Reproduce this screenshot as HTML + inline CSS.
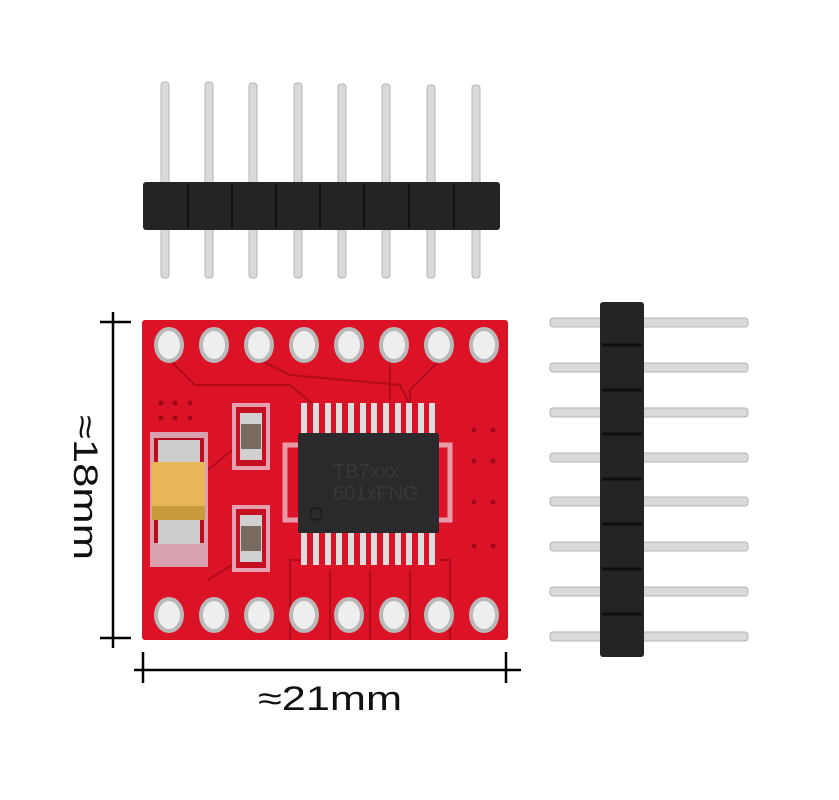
<!DOCTYPE html>
<html><head><meta charset="utf-8"><style>
html,body{margin:0;padding:0;background:#fff;}
svg{display:block;}
</style></head><body>
<svg width="839" height="800" viewBox="0 0 839 800" xmlns="http://www.w3.org/2000/svg">
<rect width="839" height="800" fill="#fff"/>
<!-- top header pins -->
<g fill="#d9d9d9" stroke="#b5b5b5" stroke-width="1">
<rect x="161" y="82" width="8" height="196" rx="3"/>
<rect x="205" y="82" width="8" height="196" rx="3"/>
<rect x="249" y="83" width="8" height="195" rx="3"/>
<rect x="294" y="83" width="8" height="195" rx="3"/>
<rect x="338" y="84" width="8" height="194" rx="3"/>
<rect x="382" y="84" width="8" height="194" rx="3"/>
<rect x="427" y="85" width="8" height="193" rx="3"/>
<rect x="472" y="85" width="8" height="193" rx="3"/>
</g>
<g fill="#242424">
<rect x="143" y="182" width="357" height="48" rx="3"/>
</g>
<g stroke="#111" stroke-width="2">
<line x1="188" y1="184" x2="188" y2="228"/><line x1="232" y1="184" x2="232" y2="228"/><line x1="276" y1="184" x2="276" y2="228"/><line x1="320" y1="184" x2="320" y2="228"/><line x1="364" y1="184" x2="364" y2="228"/><line x1="409" y1="184" x2="409" y2="228"/><line x1="454" y1="184" x2="454" y2="228"/>
</g>
<!-- right header -->
<g fill="#d9d9d9" stroke="#b5b5b5" stroke-width="1">
<rect x="550" y="318" width="198" height="9" rx="3"/>
<rect x="550" y="363" width="198" height="9" rx="3"/>
<rect x="550" y="408" width="198" height="9" rx="3"/>
<rect x="550" y="453" width="198" height="9" rx="3"/>
<rect x="550" y="497" width="198" height="9" rx="3"/>
<rect x="550" y="542" width="198" height="9" rx="3"/>
<rect x="550" y="587" width="198" height="9" rx="3"/>
<rect x="550" y="632" width="198" height="9" rx="3"/>
</g>
<rect x="600" y="302" width="44" height="355" rx="3" fill="#242424"/>
<g stroke="#0e0e0e" stroke-width="3">
<line x1="602" y1="345" x2="642" y2="345"/><line x1="602" y1="390" x2="642" y2="390"/><line x1="602" y1="434" x2="642" y2="434"/><line x1="602" y1="479" x2="642" y2="479"/><line x1="602" y1="524" x2="642" y2="524"/><line x1="602" y1="569" x2="642" y2="569"/><line x1="602" y1="614" x2="642" y2="614"/>
</g>
<!-- PCB -->
<rect x="142" y="320" width="366" height="320" rx="3" fill="#dc1226"/>
<g fill="none" stroke="#b00c1c" stroke-width="2">
<path d="M170 360 L195 385 L290 385 L320 410"/>
<path d="M260 360 L290 375 L400 385 L410 405"/>
<path d="M390 360 L390 400"/>
<path d="M440 360 L410 390 L410 405"/>
<path d="M208 470 L232 450"/><path d="M208 580 L240 560"/>
<path d="M290 640 L290 560 L300 560"/><path d="M330 640 L330 570"/><path d="M370 640 L370 570"/><path d="M410 640 L410 570"/><path d="M450 640 L450 560 L440 560"/>
</g>
<!-- holes -->
<g fill="#eee" stroke="#b9b9b9" stroke-width="4">
<ellipse cx="169" cy="345" rx="13" ry="16"/><ellipse cx="214" cy="345" rx="13" ry="16"/><ellipse cx="259" cy="345" rx="13" ry="16"/><ellipse cx="304" cy="345" rx="13" ry="16"/><ellipse cx="349" cy="345" rx="13" ry="16"/><ellipse cx="394" cy="345" rx="13" ry="16"/><ellipse cx="439" cy="345" rx="13" ry="16"/><ellipse cx="484" cy="345" rx="13" ry="16"/>
<ellipse cx="169" cy="615" rx="13" ry="16"/><ellipse cx="214" cy="615" rx="13" ry="16"/><ellipse cx="259" cy="615" rx="13" ry="16"/><ellipse cx="304" cy="615" rx="13" ry="16"/><ellipse cx="349" cy="615" rx="13" ry="16"/><ellipse cx="394" cy="615" rx="13" ry="16"/><ellipse cx="439" cy="615" rx="13" ry="16"/><ellipse cx="484" cy="615" rx="13" ry="16"/>
</g>
<!-- capacitor -->
<rect x="150" y="432" width="58" height="135" fill="#d9a0b0"/>
<rect x="154" y="438" width="50" height="105" fill="#b80e20"/>
<rect x="158" y="440" width="42" height="24" fill="#ccc"/>
<rect x="158" y="518" width="42" height="26" fill="#ccc"/>
<rect x="152" y="462" width="53" height="58" fill="#e6b658"/>
<rect x="152" y="506" width="53" height="14" fill="#c99a3c"/>
<!-- inductors -->
<g>
<rect x="232" y="403" width="38" height="67" fill="#e6a0b0"/>
<rect x="236" y="407" width="30" height="59" fill="#c50f22"/>
<rect x="240" y="413" width="22" height="47" fill="#d0d0d0"/>
<rect x="241" y="424" width="20" height="25" fill="#7a6a60"/>
<rect x="232" y="505" width="38" height="67" fill="#e6a0b0"/>
<rect x="236" y="509" width="30" height="59" fill="#c50f22"/>
<rect x="240" y="515" width="22" height="47" fill="#d0d0d0"/>
<rect x="241" y="526" width="20" height="25" fill="#7a6a60"/>
</g>
<rect x="285" y="445" width="165" height="75" fill="none" stroke="#e79aa8" stroke-width="5"/>
<g fill="#ddd">
<rect x="301" y="403" width="6" height="32"/><rect x="313" y="403" width="6" height="32"/><rect x="325" y="403" width="6" height="32"/><rect x="336" y="403" width="6" height="32"/><rect x="348" y="403" width="6" height="32"/><rect x="360" y="403" width="6" height="32"/><rect x="371" y="403" width="6" height="32"/><rect x="383" y="403" width="6" height="32"/><rect x="395" y="403" width="6" height="32"/><rect x="406" y="403" width="6" height="32"/><rect x="418" y="403" width="6" height="32"/><rect x="429" y="403" width="6" height="32"/>
<rect x="301" y="531" width="6" height="34"/><rect x="313" y="531" width="6" height="34"/><rect x="325" y="531" width="6" height="34"/><rect x="336" y="531" width="6" height="34"/><rect x="348" y="531" width="6" height="34"/><rect x="360" y="531" width="6" height="34"/><rect x="371" y="531" width="6" height="34"/><rect x="383" y="531" width="6" height="34"/><rect x="395" y="531" width="6" height="34"/><rect x="406" y="531" width="6" height="34"/><rect x="418" y="531" width="6" height="34"/><rect x="429" y="531" width="6" height="34"/>
</g>
<rect x="298" y="433" width="141" height="100" rx="2" fill="#2a2a2c"/>
<circle cx="316" cy="514" r="6" fill="none" stroke="#1a1a1a" stroke-width="1.5"/>
<text x="333" y="478" font-family="Liberation Sans, sans-serif" font-size="20" fill="#38383a">TB7xxx</text>
<text x="333" y="500" font-family="Liberation Sans, sans-serif" font-size="20" fill="#38383a">601xFNG</text>
<g fill="#9a0a18">
<circle cx="161" cy="403" r="2.5"/><circle cx="175" cy="403" r="2.5"/><circle cx="190" cy="403" r="2.5"/>
<circle cx="161" cy="418" r="2.5"/><circle cx="175" cy="418" r="2.5"/><circle cx="190" cy="418" r="2.5"/>
<circle cx="474" cy="430" r="2.5"/><circle cx="493" cy="430" r="2.5"/>
<circle cx="474" cy="461" r="2.5"/><circle cx="493" cy="461" r="2.5"/>
<circle cx="474" cy="502" r="2.5"/><circle cx="493" cy="502" r="2.5"/>
<circle cx="474" cy="546" r="2.5"/><circle cx="493" cy="546" r="2.5"/>
</g>
<!-- dimensions -->
<g stroke="#000" stroke-width="2.5">
<line x1="113" y1="312" x2="113" y2="648"/>
<line x1="100" y1="322" x2="131" y2="322"/>
<line x1="100" y1="638" x2="131" y2="638"/>
<line x1="134" y1="670" x2="521" y2="670"/>
<line x1="143" y1="652" x2="143" y2="683"/>
<line x1="506" y1="652" x2="506" y2="683"/>
</g>
<text x="258" y="710" textLength="144" lengthAdjust="spacingAndGlyphs" font-family="Liberation Sans, 'DejaVu Sans', sans-serif" font-size="34" fill="#111">≈21mm</text>
<text transform="translate(74,415) rotate(90)" textLength="145" lengthAdjust="spacingAndGlyphs" font-family="Liberation Sans, 'DejaVu Sans', sans-serif" font-size="34" fill="#111">≈18mm</text>
</svg>
</body></html>
